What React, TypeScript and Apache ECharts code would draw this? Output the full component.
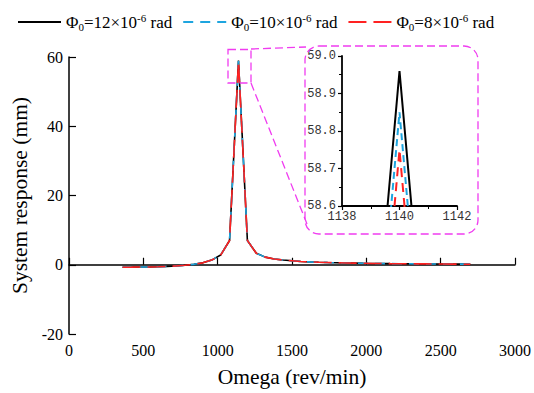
import React, { useEffect, useRef } from "react";
import * as echarts from "echarts";

const omega = [
  360, 420, 480, 540, 600, 660, 720, 780, 840, 900, 960, 1020, 1080, 1140, 1200, 1260, 1320, 1380, 1440, 1500,
  1560, 1620, 1680, 1740, 1800, 1860, 1920, 1980, 2040, 2100, 2160, 2220, 2280, 2340, 2400, 2460, 2520, 2580, 2640, 2700,
];
const response12 = [
  -0.72, -0.7, -0.67, -0.63, -0.57, -0.48, -0.35, -0.15, 0.12, 0.55, 1.35, 2.8, 7.0, 58.96, 7.0, 3.3, 2.2, 1.65, 1.35, 1.15,
  0.95, 0.82, 0.72, 0.64, 0.58, 0.52, 0.47, 0.42, 0.38, 0.35, 0.32, 0.3, 0.28, 0.26, 0.24, 0.22, 0.2, 0.18, 0.17, 0.15,
];
const response10 = [
  -0.72, -0.7, -0.67, -0.63, -0.57, -0.48, -0.35, -0.15, 0.12, 0.55, 1.35, 2.8, 7.0, 58.85, 7.0, 3.3, 2.2, 1.65, 1.35, 1.15,
  0.95, 0.82, 0.72, 0.64, 0.58, 0.52, 0.47, 0.42, 0.38, 0.35, 0.32, 0.3, 0.28, 0.26, 0.24, 0.22, 0.2, 0.18, 0.17, 0.15,
];
const response8 = [
  -0.72, -0.7, -0.67, -0.63, -0.57, -0.48, -0.35, -0.15, 0.12, 0.55, 1.35, 2.8, 7.0, 58.75, 7.0, 3.3, 2.2, 1.65, 1.35, 1.15,
  0.95, 0.82, 0.72, 0.64, 0.58, 0.52, 0.47, 0.42, 0.38, 0.35, 0.32, 0.3, 0.28, 0.26, 0.24, 0.22, 0.2, 0.18, 0.17, 0.15,
];
const seriesNames = ["Φ0=12×10-6 rad", "Φ0=10×10-6 rad", "Φ0=8×10-6 rad"];
const legendParts = [
  ["=12×10", "-6", " rad"],
  ["=10×10", "-6", " rad"],
  ["=8×10", "-6", " rad"],
];
const xTicks = [0, 3000, 500];
const yTicks = [-20, 60, 20];
const insetX = [1138, 1142, 2];
const insetY = [58.6, 59.0];

const SERIF = "'Liberation Serif', 'Times New Roman', serif";
const MONO = "'Liberation Mono', 'Courier New', monospace";
const MAGENTA = "#f03cf0";
const COLORS = ["#000000", "#1ea5df", "#ff2222"];

export default function App() {
  const ref = useRef<HTMLDivElement>(null);
  useEffect(() => {
    const chart = echarts.init(ref.current!, null, { renderer: "svg" });
    const datas = [response12, response10, response8];
    const pairs = datas.map((d) => omega.map((w, i) => [w, d[i]]));
    const dashes: any[] = ["solid", [10, 7], [18, 7]];
    const insetDashes: any[] = ["solid", [7, 4], [9, 6]];

    const mainSeries = pairs.map((p, k) => ({
      name: seriesNames[k],
      type: "line",
      xAxisIndex: 0,
      yAxisIndex: 0,
      data: p,
      symbol: "none",
      z: 2 + k,
      lineStyle: { color: COLORS[k], width: 1.6, type: dashes[k] },
      itemStyle: { color: COLORS[k] },
    }));
    const insetSeries = pairs.map((p, k) => ({
      name: seriesNames[k],
      type: "line",
      xAxisIndex: 1,
      yAxisIndex: 1,
      data: p,
      symbol: "none",
      clip: true,
      z: 2 + k,
      lineStyle: { color: COLORS[k], width: 2, type: insetDashes[k] },
      itemStyle: { color: COLORS[k] },
    }));

    const plain = (v: number) => String(v);

    chart.setOption({
      animation: false,
      backgroundColor: "#fff",
      textStyle: { fontFamily: SERIF },
      legend: {
        data: seriesNames,
        left: 12,
        top: 7,
        itemWidth: 43,
        itemHeight: 14,
        itemGap: 10,
        itemStyle: { opacity: 0 },
        formatter: (name: string) => {
          const k = seriesNames.indexOf(name);
          const p = legendParts[k];
          return `{a|Φ}{sub|0}{a|${p[0]}}{sup|${p[1]}}{a|${p[2]}}`;
        },
        textStyle: {
          fontFamily: SERIF,
          fontSize: 17,
          color: "#000",
          rich: {
            a: { fontFamily: SERIF, fontSize: 17, color: "#000", lineHeight: 20 },
            sub: { fontFamily: SERIF, fontSize: 11, color: "#000", verticalAlign: "bottom", lineHeight: 20, padding: [6, 0, 0, 0] },
            sup: { fontFamily: SERIF, fontSize: 11, color: "#000", verticalAlign: "top", lineHeight: 20, padding: [0, 0, 4, 0] },
          },
        },
      },
      grid: [
        { left: 69, right: 17, top: 57, bottom: 57 },
        { left: 342, top: 56, width: 115, height: 150 },
      ],
      xAxis: [
        {
          type: "value",
          gridIndex: 0,
          min: xTicks[0],
          max: xTicks[1],
          interval: xTicks[2],
          name: "Omega (rev/min)",
          nameLocation: "middle",
          nameGap: 32,
          nameTextStyle: { fontFamily: SERIF, fontSize: 21.5, color: "#000" },
          axisLine: { lineStyle: { color: "#000", width: 1.5 } },
          axisTick: { inside: true, length: 7, lineStyle: { color: "#000", width: 1.2 } },
          axisLabel: { fontFamily: SERIF, fontSize: 16, color: "#000", margin: 8, formatter: plain },
          splitLine: { show: false },
        },
        {
          type: "value",
          gridIndex: 1,
          min: insetX[0],
          max: insetX[1],
          interval: insetX[2],
          axisLine: { lineStyle: { color: "#000", width: 1.8 } },
          axisTick: { inside: false, length: 4, lineStyle: { color: "#000", width: 1.2 } },
          minorTick: { show: true, splitNumber: 2, length: 3, lineStyle: { color: "#000", width: 1 } },
          axisLabel: { fontFamily: MONO, fontSize: 12, color: "#333", margin: 5, formatter: plain },
          splitLine: { show: false },
        },
      ],
      yAxis: [
        {
          type: "value",
          gridIndex: 0,
          min: yTicks[0],
          max: yTicks[1],
          interval: yTicks[2],
          name: "System response (mm)",
          nameLocation: "middle",
          nameGap: 38,
          nameTextStyle: { fontFamily: SERIF, fontSize: 21.5, color: "#000" },
          axisLine: { lineStyle: { color: "#000", width: 1.5 } },
          axisTick: { inside: true, length: 7, lineStyle: { color: "#000", width: 1.2 } },
          axisLabel: { fontFamily: SERIF, fontSize: 16, color: "#000", margin: 6, formatter: plain },
          splitLine: { show: false },
        },
        {
          type: "value",
          gridIndex: 1,
          min: insetY[0],
          max: insetY[1],
          splitNumber: 4,
          axisLine: { lineStyle: { color: "#000", width: 1.8 } },
          axisTick: { inside: false, length: 4, lineStyle: { color: "#000", width: 1.2 } },
          minorTick: { show: true, splitNumber: 2, length: 3, lineStyle: { color: "#000", width: 1 } },
          axisLabel: {
            fontFamily: MONO,
            fontSize: 12,
            color: "#333",
            margin: 6,
            formatter: (v: number) => v.toFixed(1),
          },
          splitLine: { show: false },
        },
      ],
      series: [...mainSeries, ...insetSeries],
      graphic: [
        {
          type: "rect",
          shape: { x: 305, y: 46, width: 173, height: 188, r: 14 },
          style: { fill: "rgba(255,255,255,0)", stroke: MAGENTA, lineWidth: 1.3, lineDash: [8, 4] },
          z: 1,
        },
        {
          type: "rect",
          shape: { x: 228, y: 49.5, width: 23, height: 33.5 },
          style: { fill: "none", stroke: MAGENTA, lineWidth: 1.3, lineDash: [8, 4] },
          z: 10,
        },
        {
          type: "line",
          shape: { x1: 251, y1: 49, x2: 306, y2: 47 },
          style: { stroke: MAGENTA, lineWidth: 1.3, lineDash: [8, 4] },
          z: 10,
        },
        {
          type: "line",
          shape: { x1: 251, y1: 83, x2: 307, y2: 224 },
          style: { stroke: MAGENTA, lineWidth: 1.3, lineDash: [8, 4] },
          z: 10,
        },
      ],
    });
    return () => chart.dispose();
  }, []);
  return <div ref={ref} style={{ width: 534, height: 393, position: "absolute", left: 0, top: 0 }} />;
}
